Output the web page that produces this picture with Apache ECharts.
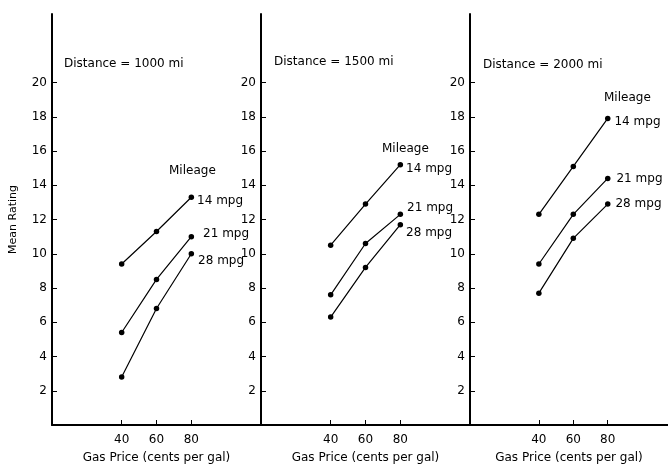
<!DOCTYPE html>
<html>
<head>
<meta charset="utf-8">
<script src="https://cdn.jsdelivr.net/npm/echarts@6/dist/echarts.min.js"></script>
<style>
html,body{margin:0;padding:0;background:#fff;}
#chart{width:668px;height:469px;}
</style>
</head>
<body>
<div id="chart"></div>
<script>
// ---- data ----
const prices = [40, 60, 80];
const mileages = ['14 mpg', '21 mpg', '28 mpg'];
const distances = ['1000 mi', '1500 mi', '2000 mi'];
const yTicks = [2, 4, 6, 8, 10, 12, 14, 16, 18, 20];
const xTicks = [40, 60, 80];

const d1000_14 = [9.4, 11.3, 13.3];
const d1000_21 = [5.4, 8.5, 11.0];
const d1000_28 = [2.8, 6.8, 10.0];

const d1500_14 = [10.5, 12.9, 15.2];
const d1500_21 = [7.6, 10.6, 12.3];
const d1500_28 = [6.3, 9.2, 11.7];

const d2000_14 = [12.3, 15.1, 17.9];
const d2000_21 = [9.4, 12.3, 14.4];
const d2000_28 = [7.7, 10.9, 12.9];

const panels = [
  [d1000_14, d1000_21, d1000_28],
  [d1500_14, d1500_21, d1500_28],
  [d2000_14, d2000_21, d2000_28]
];

// ---- layout / style ----
const FONT = 'DejaVu Sans';
const grids = [
  { left: 52, top: 14, width: 209, height: 415 },
  { left: 261, top: 14, width: 209, height: 415 },
  { left: 470, top: 14, width: 198, height: 415 }
];
const xMax = [120, 120, 115];
const labelOffsets = [
  [[0, 4], [6, -3], [1, 7]],
  [[0, 4], [1, -6], [0, 8]],
  [[1, 3], [3, 0], [2, 0]]
];
const distTitlePos = [[64, 58], [274, 56], [483, 59]];
const mileTitlePos = [[169, 165], [382, 143], [604, 92]];

const textStyle = { fontFamily: FONT, fontSize: 12, color: '#000', fontWeight: 'normal' };

const xAxes = grids.map((g, i) => ({
  type: 'value', gridIndex: i, min: 0, max: xMax[i],
  axisLine: { show: true, onZero: false, lineStyle: { color: '#000', width: 2 } },
  axisTick: { show: true, inside: true, length: 5, customValues: xTicks, lineStyle: { color: '#000' } },
  axisLabel: { customValues: xTicks, margin: 9, fontFamily: FONT, fontSize: 12, color: '#000' },
  splitLine: { show: false },
  name: 'Gas Price (cents per gal)', nameLocation: 'middle', nameGap: 27,
  nameTextStyle: { fontFamily: FONT, fontSize: 12, color: '#000' }
}));

const yAxes = grids.map((g, i) => ({
  type: 'value', gridIndex: i, min: 0, max: 24,
  axisLine: { show: true, lineStyle: { color: '#000', width: 2 } },
  axisTick: { show: true, inside: true, length: 5, customValues: yTicks, lineStyle: { color: '#000' } },
  axisLabel: { customValues: yTicks, margin: 5, fontFamily: FONT, fontSize: 12, color: '#000' },
  splitLine: { show: false },
  name: i === 0 ? 'Mean Rating' : '', nameLocation: 'middle', nameGap: 33, nameRotate: 90,
  nameTextStyle: { fontFamily: FONT, fontSize: 11, color: '#000' }
}));

const series = [];
panels.forEach((pan, pi) => {
  pan.forEach((vals, si) => {
    const data = prices.map((p, k) => {
      const item = { value: [p, vals[k]] };
      if (k === prices.length - 1) {
        item.label = {
          show: true, position: 'right', distance: 3,
          formatter: mileages[si], offset: labelOffsets[pi][si],
          fontFamily: FONT, fontSize: 12, color: '#000'
        };
      }
      return item;
    });
    series.push({
      type: 'line', xAxisIndex: pi, yAxisIndex: pi,
      data: data, symbol: 'circle', symbolSize: 5.5,
      itemStyle: { color: '#000' },
      lineStyle: { color: '#000', width: 1.2 },
      silent: true, animation: false
    });
  });
});

const titles = [];
distances.forEach((d, i) => {
  titles.push({ text: 'Distance = ' + d, left: distTitlePos[i][0], top: distTitlePos[i][1], padding: 0, textStyle: textStyle });
  titles.push({ text: 'Mileage', left: mileTitlePos[i][0], top: mileTitlePos[i][1], padding: 0, textStyle: textStyle });
});

const chart = echarts.init(document.getElementById('chart'), null, { renderer: 'canvas' });
chart.setOption({
  backgroundColor: '#fff',
  animation: false,
  title: titles,
  grid: grids,
  xAxis: xAxes,
  yAxis: yAxes,
  series: series
});
</script>
</body>
</html>
